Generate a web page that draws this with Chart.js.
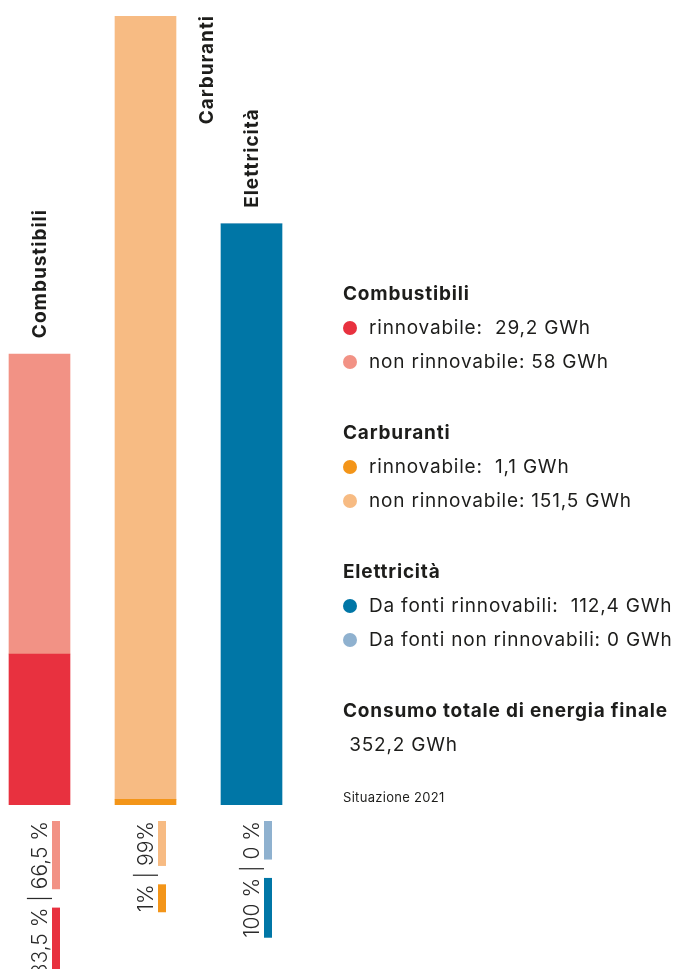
<!DOCTYPE html>
<html lang="it">
<head>
<meta charset="utf-8">
<title>Consumo di energia finale 2021</title>
<script src="https://cdn.jsdelivr.net/npm/chart.js@4.4.1/dist/chart.umd.min.js"></script>
<style>
  html, body { margin: 0; padding: 0; background: #fff; }
  body { width: 677px; height: 969px; position: relative; overflow: hidden; font-family: Inter, "Noto Sans", sans-serif; color: #1d1d1b; }
  #wrap { position: absolute; left: 0; top: 0; width: 677px; height: 969px; }
  #legenda { position: absolute; left: 343px; top: 277px; width: 334px; }
  .titolo { font-weight: 700; font-size: 19px; letter-spacing: 0.8px; height: 34px; line-height: 34px; white-space: nowrap; }
  .voce { font-size: 19px; letter-spacing: 0.8px; height: 34px; line-height: 34px; white-space: pre; position: relative; padding-left: 26px; }
  .voce .punto { position: absolute; left: 0; top: 10px; width: 14px; height: 14px; border-radius: 50%; }
  .gruppo { margin-bottom: 37px; }
  .totale { font-size: 19px; letter-spacing: 0.8px; height: 34px; line-height: 34px; white-space: pre; }
  .nota { font-size: 13px; letter-spacing: 0.3px; line-height: 20px; margin-top: 25px; }
</style>
</head>
<body>
<div id="wrap"><canvas id="grafico" width="677" height="969"></canvas></div>
<div id="legenda"></div>
<script>
// dati (GWh)
const categorie = ['Combustibili', 'Carburanti', 'Elettricità'];
const rinnovabile = [29.2, 1.1, 112.4];
const nonRinnovabile = [58, 151.5, 0];
const pctRinnovabile = ['33,5 %', '1%', '100 %'];
const pctNonRinnovabile = ['66,5 %', '99%', '0 %'];
const etichetteRinn = ['rinnovabile:  29,2 GWh', 'rinnovabile:  1,1 GWh', 'Da fonti rinnovabili:  112,4 GWh'];
const etichetteNonRinn = ['non rinnovabile: 58 GWh', 'non rinnovabile: 151,5 GWh', 'Da fonti non rinnovabili: 0 GWh'];
const totale = ' 352,2 GWh';

const coloriRinn = ['#e8313f', '#f39519', '#0076a6'];
const coloriNonRinn = ['#f29285', '#f7bb83', '#8fb1cf'];

// legenda in HTML
const legenda = document.getElementById('legenda');
categorie.forEach((c, i) => {
    const g = document.createElement('div');
    g.className = 'gruppo';
    g.innerHTML = `<div class="titolo">${c}</div>` +
        `<div class="voce"><span class="punto" style="background:${coloriRinn[i]}"></span>${etichetteRinn[i]}</div>` +
        `<div class="voce"><span class="punto" style="background:${coloriNonRinn[i]}"></span>${etichetteNonRinn[i]}</div>`;
    legenda.appendChild(g);
});
const tot = document.createElement('div');
tot.innerHTML = `<div class="titolo">Consumo totale di energia finale</div><div class="totale">${totale}</div><div class="nota">Situazione 2021</div>`;
legenda.appendChild(tot);

// etichette delle colonne e percentuali sotto
const etichettePlugin = {
    id: 'etichette',
    afterDatasetsDraw(chart) {
        const ctx = chart.ctx;
        const xs = chart.scales.x, ys = chart.scales.y;
        const area = chart.chartArea;
        ctx.save();
        categorie.forEach((nome, i) => {
            const cx = xs.getPixelForValue(i);
            const top = ys.getPixelForValue(rinnovabile[i] + nonRinnovabile[i]);
            ctx.font = '700 19px Inter, "Noto Sans", sans-serif';
            ctx.letterSpacing = '1px';
            ctx.fillStyle = '#1d1d1b';
            const w = ctx.measureText(nome).width;
            let lx = cx, ly = top - 16;
            if (ly - w < area.top) {
                // non c'è spazio sopra: etichetta a destra della colonna
                lx = cx + 61;
                ly = area.top - 1 + w;
            }
            ctx.save();
            ctx.translate(lx, ly);
            ctx.rotate(-Math.PI / 2);
            ctx.textAlign = 'left';
            ctx.textBaseline = 'middle';
            ctx.fillText(nome, 0, 1);
            ctx.restore();

            // percentuali sotto la colonna
            ctx.font = '300 21px Inter, "Noto Sans", sans-serif';
            ctx.letterSpacing = '0px';
            ctx.fillStyle = '#2a2a2a';
            const sep = ' | ';
            const wR = ctx.measureText(pctRinnovabile[i]).width;
            const wS = ctx.measureText(sep).width;
            const wN = ctx.measureText(pctNonRinnovabile[i]).width;
            const y0 = area.bottom + 16;
            ctx.save();
            ctx.translate(cx + 1, y0);
            ctx.rotate(-Math.PI / 2);
            ctx.textAlign = 'right';
            ctx.textBaseline = 'middle';
            ctx.fillText(pctRinnovabile[i] + sep + pctNonRinnovabile[i], 0, 0);
            ctx.restore();
            ctx.fillStyle = coloriNonRinn[i];
            ctx.fillRect(cx + 12.5, y0, 8, wN);
            ctx.fillStyle = coloriRinn[i];
            ctx.fillRect(cx + 12.5, y0 + wN + wS, 8, wR);
        });
        ctx.restore();
    }
};

const pxPerUnit = 106;
new Chart(document.getElementById('grafico'), {
    type: 'bar',
    data: {
        datasets: [
            {
                label: 'rinnovabile',
                data: rinnovabile.map((v, i) => ({ x: i, y: v })),
                backgroundColor: coloriRinn,
                barThickness: 61
            },
            {
                label: 'non rinnovabile',
                data: nonRinnovabile.map((v, i) => ({ x: i, y: v })),
                backgroundColor: coloriNonRinn,
                barThickness: 61
            }
        ]
    },
    options: {
        responsive: false,
        animation: false,
        layout: { padding: { top: 16, bottom: 164, left: 0, right: 0 } },
        plugins: { legend: { display: false }, tooltip: { enabled: false } },
        scales: {
            x: { type: 'linear', display: false, stacked: true, offset: false, min: -39.5 / pxPerUnit, max: (677 - 39.5) / pxPerUnit },
            y: { display: false, stacked: true, min: 0, max: 152.6 }
        }
    },
    plugins: [etichettePlugin]
});
</script>
</body>
</html>
